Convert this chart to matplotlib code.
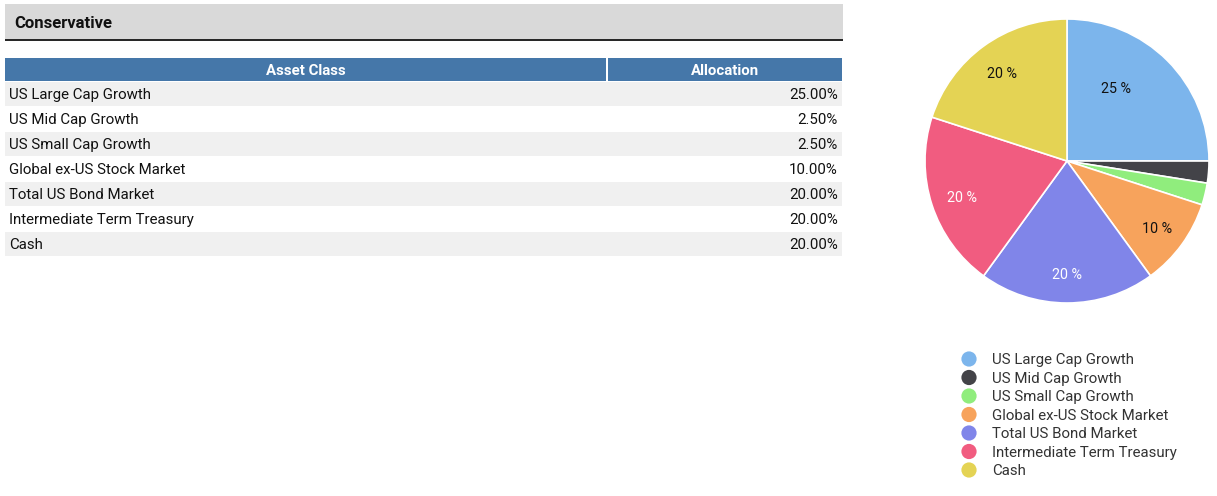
import matplotlib
matplotlib.use("Agg")
import matplotlib.pyplot as plt
from matplotlib.patches import Rectangle

plt.rcParams['font.family'] = ['Roboto', 'DejaVu Sans']

title = "Conservative"
headers = ["Asset Class", "Allocation"]
categories = ["US Large Cap Growth", "US Mid Cap Growth", "US Small Cap Growth",
              "Global ex-US Stock Market", "Total US Bond Market",
              "Intermediate Term Treasury", "Cash"]
allocations = [25.0, 2.5, 2.5, 10.0, 20.0, 20.0, 20.0]
colors = ["#7cb5ec", "#434348", "#90ed7d", "#f7a35c", "#8085e9", "#f15c80", "#e4d354"]
label_colors = ["#111111", None, None, "#111111", "white", "white", "#111111"]

W, H = 1217, 496
fig = plt.figure(figsize=(W / 100, H / 100), dpi=100)
ov = fig.add_axes([0, 0, 1, 1])
ov.set_xlim(0, W)
ov.set_ylim(H, 0)
ov.axis('off')

# Title bar
ov.add_patch(Rectangle((5, 4), 838, 35, facecolor="#d9d9d9", edgecolor="none"))
ov.plot([5, 843], [40, 40], color="#111111", lw=1.3, solid_capstyle='butt')
ov.text(14, 23, title, fontsize=12, fontweight='bold', va='center', ha='left', color="#111111")

# Table header
hdr_color = "#4577a9"
ov.add_patch(Rectangle((5, 58), 601, 23, facecolor=hdr_color, edgecolor="none"))
ov.add_patch(Rectangle((608, 58), 234, 23, facecolor=hdr_color, edgecolor="none"))
ov.text(305.5, 71, headers[0], fontsize=10.8, fontweight='bold', color='white', ha='center', va='center')
ov.text(725, 71, headers[1], fontsize=10.8, fontweight='bold', color='white', ha='center', va='center')

# Table rows
row_h = 25
y0 = 82
for i, (cat, val) in enumerate(zip(categories, allocations)):
    top = y0 + i * row_h
    fc = "#f0f0f0" if i % 2 == 0 else "white"
    ov.add_patch(Rectangle((5, top), 837, row_h - 1, facecolor=fc, edgecolor="none"))
    cy = top + 13
    ov.text(9, cy, cat, fontsize=10.8, color="#111111", ha='left', va='center')
    ov.text(838, cy, f"{val:.2f}%", fontsize=10.8, color="#111111", ha='right', va='center')

# Pie
cx, cyp, r = 1067, 161, 142
pax = fig.add_axes([(cx - r) / W, (H - cyp - r) / H, 2 * r / W, 2 * r / H])
wedges, texts = pax.pie(allocations, colors=colors, startangle=90, counterclock=False,
                        radius=1.0, wedgeprops=dict(edgecolor='white', linewidth=1.2),
                        labels=[f"{v:.0f} %" if v >= 5 else "" for v in allocations],
                        labeldistance=0.78,
                        textprops=dict(fontsize=10.3, ha='center', va='center'))
for t, lc in zip(texts, label_colors):
    if lc:
        t.set_color(lc)
    x, y = t.get_position()
    t.set_position((x, y - 0.02))
texts[0].set_position((0.345, 0.51))
pax.set_xlim(-1, 1)
pax.set_ylim(-1, 1)
pax.set_aspect('equal')
pax.axis('off')

# Legend
ly0, ldy = 360, 18.5
for i, (cat, c) in enumerate(zip(categories, colors)):
    y = ly0 + i * ldy
    ov.scatter([969], [y - 1], s=120, color=c, edgecolors='none')
    ov.text(992, y, cat, fontsize=10.8, color="#333333", ha='left', va='center')

fig.savefig("out.png", dpi=100)
